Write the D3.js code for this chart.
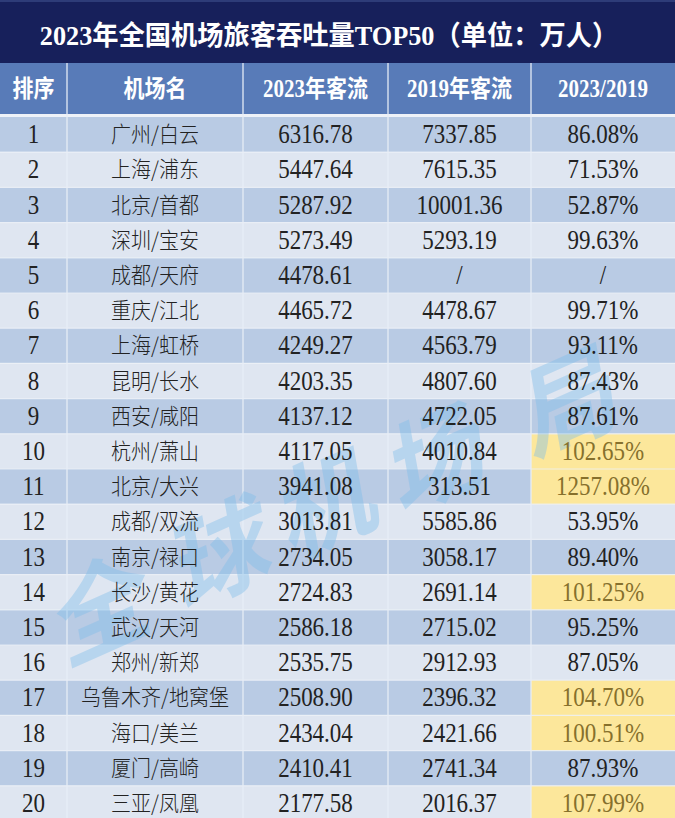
<!DOCTYPE html>
<html>
<head>
<meta charset="utf-8">
<script src="https://cdn.jsdelivr.net/npm/d3@7"></script>
<style>
html,body{margin:0;padding:0;background:#fff;}
svg{display:block;}
</style>
</head>
<body>
<svg id="chart" width="675" height="818"></svg>
<script>
// ---------- data ----------
const title = "2023年全国机场旅客吞吐量TOP50（单位：万人）";
const headers = ["排序", "机场名", "2023年客流", "2019年客流", "2023/2019"];
const ranks = [1,2,3,4,5,6,7,8,9,10,11,12,13,14,15,16,17,18,19,20];
const airports = ["广州/白云","上海/浦东","北京/首都","深圳/宝安","成都/天府","重庆/江北","上海/虹桥","昆明/长水","西安/咸阳","杭州/萧山",
  "北京/大兴","成都/双流","南京/禄口","长沙/黄花","武汉/天河","郑州/新郑","乌鲁木齐/地窝堡","海口/美兰","厦门/高崎","三亚/凤凰"];
const pax2023 = [6316.78,5447.64,5287.92,5273.49,4478.61,4465.72,4249.27,4203.35,4137.12,4117.05,
  3941.08,3013.81,2734.05,2724.83,2586.18,2535.75,2508.90,2434.04,2410.41,2177.58];
const pax2019 = [7337.85,7615.35,10001.36,5293.19,null,4478.67,4563.79,4807.60,4722.05,4010.84,
  313.51,5585.86,3058.17,2691.14,2715.02,2912.93,2396.32,2421.66,2741.34,2016.37];
const ratio = [86.08,71.53,52.87,99.63,null,99.71,93.11,87.43,87.61,102.65,
  1257.08,53.95,89.40,101.25,95.25,87.05,104.70,100.51,87.93,107.99];
const watermark = ["全","球","机","场","局"];

// ---------- layout ----------
const W = 675, H = 818;
const colEdges = [0, 67, 243, 388, 531, 675];
const titleH = 63, headTop = 63, headBottom = 114, bodyTop = 117, rowH = 35.2;

const svg = d3.select("#chart");
const serif = "'Liberation Serif','DejaVu Serif','Noto Sans CJK SC',serif";

const colScale = d3.scaleOrdinal().domain(d3.range(5)).range(d3.range(5).map(i => colEdges[i]));
const colW = i => colEdges[i+1] - colEdges[i];
const colC = i => (colEdges[i] + colEdges[i+1]) / 2;

const y = d3.scaleBand().domain(ranks).range([bodyTop, bodyTop + rowH * ranks.length]).paddingInner(0);

// title band
svg.append("rect").attr("x",0).attr("y",0).attr("width",W).attr("height",titleH).attr("fill","#17205b");
svg.append("rect").attr("x",0).attr("y",0).attr("width",W).attr("height",2).attr("fill","#2e3c78");
svg.append("text").attr("transform","translate(329,45) scale(1.01,1.06)").attr("text-anchor","middle")
  .attr("font-family", serif).attr("font-weight","bold").attr("font-size",26).attr("fill","#ffffff")
  .text(title);

// header band
svg.append("rect").attr("x",0).attr("y",headTop).attr("width",W).attr("height",headBottom-headTop).attr("fill","#587bb8");
svg.append("rect").attr("x",0).attr("y",headBottom).attr("width",W).attr("height",bodyTop-headBottom).attr("fill","#eef2f8");
svg.selectAll("text.hdr").data(headers).join("text").attr("class","hdr")
  .attr("transform",(d,i)=>`translate(${colC(i)},97) scale(1,1.15)`).attr("text-anchor","middle")
  .attr("font-family", serif).attr("font-weight","bold").attr("font-size",21).attr("fill","#ffffff")
  .text(d=>d);

// body rows
const rows = ranks.map((r,i)=>({r, name:airports[i], a:pax2023[i], b:pax2019[i], q:ratio[i]}));
const g = svg.append("g");
g.selectAll("rect.row").data(rows).join("rect").attr("class","row")
  .attr("x",0).attr("y",d=>y(d.r)).attr("width",W).attr("height",y.bandwidth())
  .attr("fill",(d,i)=> i%2===0 ? "#b9cbe4" : "#dfe6f1");
// highlighted ratio cells
g.selectAll("rect.hl").data(rows.filter(d=>d.q!==null && d.q>100)).join("rect").attr("class","hl")
  .attr("x",colScale(4)).attr("y",d=>y(d.r)).attr("width",colW(4)).attr("height",y.bandwidth())
  .attr("fill","#fce79b");
// horizontal separators
g.selectAll("line.hs").data(rows.slice(1)).join("line").attr("class","hs")
  .attr("x1",0).attr("x2",W).attr("y1",d=>y(d.r)).attr("y2",d=>y(d.r))
  .attr("stroke","#eef2f8").attr("stroke-width",1.2).attr("opacity",0.8);
// vertical separators
svg.selectAll("line.vs").data(colEdges.slice(1,5)).join("line").attr("class","vs")
  .attr("x1",d=>d).attr("x2",d=>d).attr("y1",headTop).attr("y2",H)
  .attr("stroke","#e8eef7").attr("stroke-width",1.5).attr("opacity",0.85);

// watermark
const wmPos = [[92,605],[212,550],[318,500],[428,455],[560,398]];
svg.append("g").selectAll("text").data(watermark).join("text")
  .attr("transform",(d,i)=>`translate(${wmPos[i][0]},${wmPos[i][1]}) rotate(-24)`)
  .attr("text-anchor","middle").attr("dominant-baseline","central")
  .attr("font-family","'Noto Sans CJK SC',sans-serif").attr("font-weight","bold").attr("font-size",100)
  .attr("font-style","italic")
  .attr("fill","#7dbdeb").attr("opacity",0.4)
  .text(d=>d);

// cell texts
const fmt = v => v===null ? "/" : v.toFixed(2);
const cells = [];
rows.forEach(d=>{
  cells.push({c:0, r:d.r, t:String(d.r), hl:false, cjk:false});
  cells.push({c:1, r:d.r, t:d.name, hl:false, cjk:true});
  cells.push({c:2, r:d.r, t:fmt(d.a), hl:false, cjk:false});
  cells.push({c:3, r:d.r, t:fmt(d.b), hl:false, cjk:false});
  cells.push({c:4, r:d.r, t:d.q===null ? "/" : d.q.toFixed(2)+"%", hl:d.q!==null && d.q>100, cjk:false});
});
svg.append("g").selectAll("text").data(cells).join("text")
  .attr("transform",d=>`translate(${colC(d.c)},${y(d.r)+y.bandwidth()/2+(d.cjk?7.5:8.5)}) scale(1,${d.cjk?1.06:1.15})`)
  .attr("text-anchor","middle")
  .attr("font-family", d=> d.cjk ? "'Noto Sans CJK SC',sans-serif" : serif)
  .attr("font-weight", d=> d.cjk ? 300 : 400)
  .attr("font-size", d=> d.cjk ? 20 : 23)
  .attr("fill", d=> d.hl ? "#86702c" : "#222222")
  .text(d=>d.t);
</script>
</body>
</html>
